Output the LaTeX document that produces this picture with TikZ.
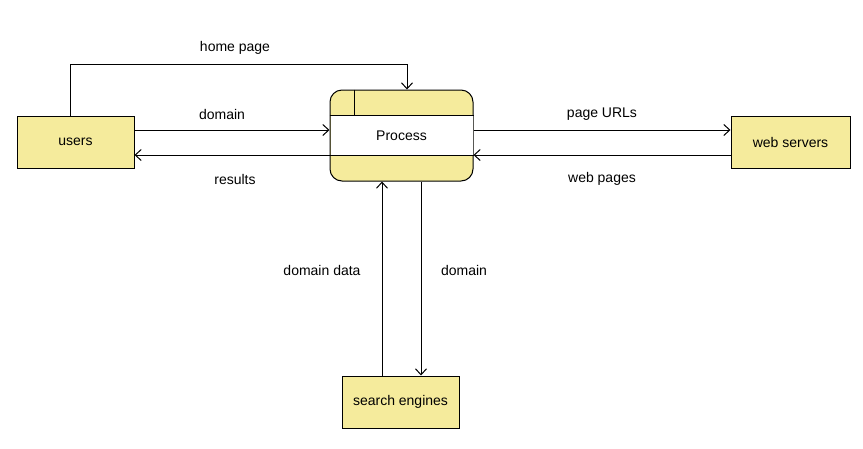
\documentclass[tikz,border=0pt]{standalone}
\usepackage{fontspec}
\setmainfont{Liberation Sans}
\usetikzlibrary{arrows.meta,positioning}
\definecolor{dfdyellow}{RGB}{245,235,156}
\tikzset{
entitybox/.style={
  rectangle,
  line width=1pt,
  draw=black,
  fill=dfdyellow,
  minimum width=117pt,
  minimum height=52pt,
  inner sep=0pt,
  font=\fontsize{14}{16}\selectfont,
  }
}
\tikzset{
procbox/.style={
  rectangle,
  rounded corners=12pt,
  line width=1pt,
  draw=black,
  fill=dfdyellow,
  minimum width=143pt,
  minimum height=91pt,
  inner sep=0pt,
  }
}
\tikzset{
flowline/.style={
  line width=1pt,
  -{Straight Barb[length=6pt,width=11pt]}
  }
}
\tikzset{
flowlabel/.style={
  inner sep=0pt,
  font=\fontsize{14}{16}\selectfont,
  }
}

\begin{document}
\begin{tikzpicture}[x=1pt,y=-1pt]
    \useasboundingbox (0,0) rectangle (863,448);

    % process
    \node[procbox] (proc) at (401.5,135.5) {};
    \fill[white] ([xshift=1pt,yshift=-26pt]proc.north west) rectangle ([xshift=-1pt,yshift=26pt]proc.south east);
    \draw[line width=1pt] ([yshift=-26pt]proc.north west) -- ([yshift=-26pt]proc.north east);
    \draw[line width=1pt] ([yshift=26pt]proc.south west) -- ([yshift=26pt]proc.south east);
    \draw[line width=1pt] ([xshift=25pt]proc.north west) -- ([xshift=25pt,yshift=-26pt]proc.north west);
    \node[flowlabel] (proctext) at (proc.center) {Process};

    % external entities
    \node[entitybox] (users) at (75.5,142) {users};
    \node[entitybox, minimum width=119pt] (websrv) at (790.5,142) {web servers};
    \node[entitybox] (search) at (400.5,402) {search engines};

    % users edges
    \draw[flowline] ([xshift=-5.5pt]users.north) -- ++(0,-51) -| ([xshift=5.5pt]proc.north);
    \draw[flowline] ([yshift=12pt]users.east) -- ([yshift=5.5pt]proc.west);
    \draw[flowline] ([yshift=-19.5pt]proc.west) -- ([yshift=-13pt]users.east);

    % web server edges
    \draw[flowline] ([yshift=5.5pt]proc.east) -- ([yshift=12pt]websrv.west);
    \draw[flowline] ([yshift=-13pt]websrv.west) -- ([yshift=-19.5pt]proc.east);

    % search engine edges
    \draw[flowline] ([xshift=-19.5pt]proc.south |- search.north) -- ([xshift=-19.5pt]proc.south);
    \draw[flowline] ([xshift=19.5pt]proc.south) -- ([xshift=19.5pt]proc.south |- search.north);

    % labels
    \node[flowlabel] (lhome) at (235,48) {home page};
    \node[flowlabel] (ldom) at (222,114) {domain};
    \node[flowlabel] (lres) at (235,179) {results};
    \node[flowlabel] (lurl) at (602,114) {page URLs};
    \node[flowlabel] (lweb) at (602,179) {web pages};
    \node[flowlabel] (ldata) at (322,270) {domain data};
    \node[flowlabel] (ldom2) at (464,270) {domain};
\end{tikzpicture}
\end{document}
